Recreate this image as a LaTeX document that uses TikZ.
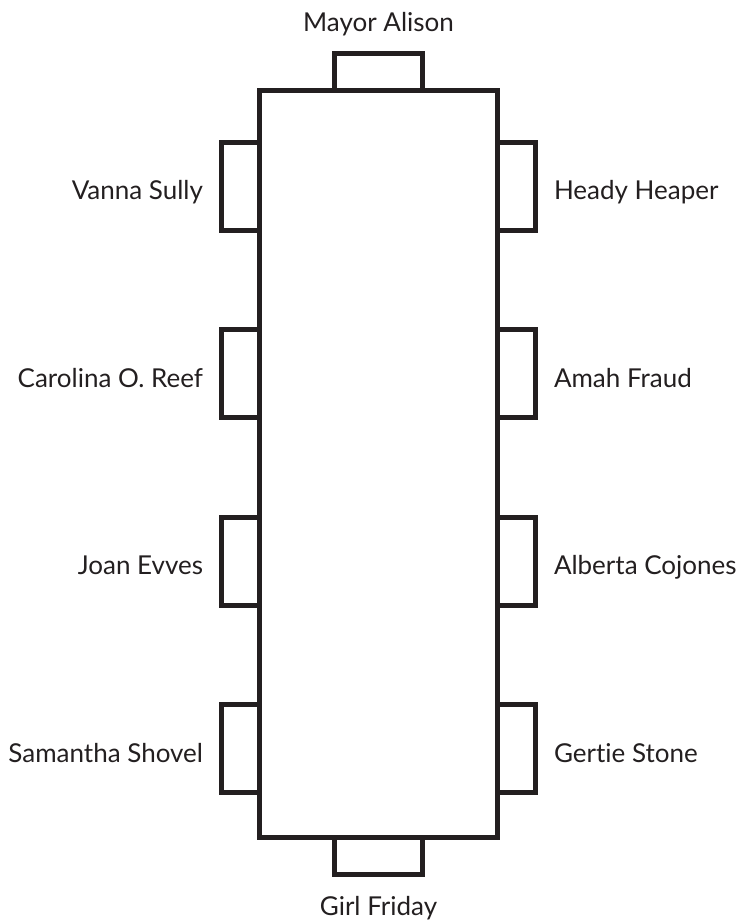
\documentclass[tikz,border=0pt]{standalone}
\usepackage{fontspec}
\setmainfont{Lato}[Ligatures=NoCommon]
\usetikzlibrary{positioning}
\definecolor{inkline}{RGB}{35,31,32}

\begin{document}
\begin{tikzpicture}[
    x=0.5pt, y=-0.5pt,
    tbl/.style={rectangle, draw=inkline, line width=2.5pt, inner sep=0pt, outer sep=0pt, minimum width=119pt, minimum height=373.5pt},
    seatside/.style={rectangle, draw=inkline, line width=2.5pt, inner sep=0pt, outer sep=0pt, minimum width=19pt, minimum height=44pt},
    seatend/.style={rectangle, draw=inkline, line width=2.5pt, inner sep=0pt, outer sep=0pt, minimum width=44pt, minimum height=18.5pt},
    guest/.style={inner sep=0pt, outer sep=0pt, text=inkline, font=\fontsize{13}{15}\selectfont, text height=13.5pt, text depth=0pt}
]
\useasboundingbox (0,0) rectangle (740,923);

% Table
\node[tbl] (table) at (378.5,464) {};

% Head and foot of the table
\node[seatend, anchor=south] (head) at (378.5,90.5) {};
\node[seatend, anchor=north] (foot) at (378.5,837.5) {};

% Left side seats
\node[seatside, anchor=east] (l1) at (259.5,186) {};
\node[seatside, anchor=east] (l2) at (259.5,373.5) {};
\node[seatside, anchor=east] (l3) at (259.5,561) {};
\node[seatside, anchor=east] (l4) at (259.5,748.5) {};

% Right side seats
\node[seatside, anchor=west] (r1) at (497.5,186) {};
\node[seatside, anchor=west] (r2) at (497.5,373.5) {};
\node[seatside, anchor=west] (r3) at (497.5,561) {};
\node[seatside, anchor=west] (r4) at (497.5,748.5) {};

% Names
\node[guest, above=11.25pt of head] (nhead) {Mayor Alison};
\node[guest, below=6.75pt of foot] (nfoot) {Girl Friday};
\node[guest, left=9.25pt of l1] (nl1) {Vanna Sully};
\node[guest, left=9.25pt of l2] (nl2) {Carolina O. Reef};
\node[guest, left=9.25pt of l3] (nl3) {Joan Evves};
\node[guest, left=9.25pt of l4] (nl4) {Samantha Shovel};
\node[guest, right=9.25pt of r1] (nr1) {Heady Heaper};
\node[guest, right=9.25pt of r2] (nr2) {Amah Fraud};
\node[guest, right=9.25pt of r3] (nr3) {Alberta Cojones};
\node[guest, right=9.25pt of r4] (nr4) {Gertie Stone};

\end{tikzpicture}
\end{document}
